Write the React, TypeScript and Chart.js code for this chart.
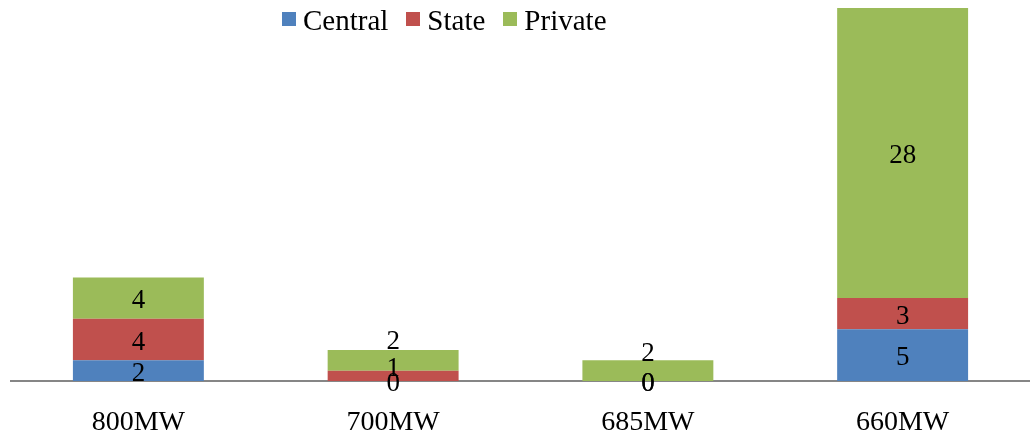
import React, { useEffect, useRef } from "react";
import { Chart, registerables } from "chart.js";

Chart.register(...registerables);

// Units by size class, stacked by sector
const categories = ["800MW", "700MW", "685MW", "660MW"];
const centralUnits = [2, 0, 0, 5];
const stateUnits = [4, 1, 0, 3];
const privateUnits = [4, 2, 2, 28];

// Vertical nudges (px) that lift crowded value labels off their neighbours
const centralLabelNudge = [0, 0, 0, 0];
const stateLabelNudge = [0, -10, 0, 0];
const privateLabelNudge = [0, -21, -20, 0];

const SERIF = '"Liberation Serif", "Times New Roman", serif';
const COLORS = { central: "#4F81BD", state: "#C0504D", private: "#9BBB59" };

const legendItems = [
  { label: "Central", color: COLORS.central },
  { label: "State", color: COLORS.state },
  { label: "Private", color: COLORS.private },
];

const valueLabels = {
  id: "valueLabels",
  afterDatasetsDraw(chart: any) {
    const ctx = chart.ctx;
    const nudges = [centralLabelNudge, stateLabelNudge, privateLabelNudge];
    ctx.save();
    ctx.font = `27px ${SERIF}`;
    ctx.fillStyle = "#000";
    ctx.textAlign = "center";
    ctx.textBaseline = "middle";
    chart.data.datasets.forEach((ds: any, i: number) => {
      const meta = chart.getDatasetMeta(i);
      meta.data.forEach((bar: any, j: number) => {
        const { x, y, base } = bar.getProps(["x", "y", "base"], true);
        const cy = (y + base) / 2 + 3 + nudges[i][j];
        ctx.fillText(String(ds.data[j]), x, cy);
      });
    });
    ctx.restore();
  },
};

export default function App() {
  const canvasRef = useRef<HTMLCanvasElement | null>(null);

  useEffect(() => {
    if (!canvasRef.current) return;
    const chart = new Chart(canvasRef.current, {
      type: "bar",
      data: {
        labels: categories,
        datasets: [
          { label: "Central", data: centralUnits, backgroundColor: COLORS.central },
          { label: "State", data: stateUnits, backgroundColor: COLORS.state },
          { label: "Private", data: privateUnits, backgroundColor: COLORS.private },
        ],
      },
      options: {
        responsive: false,
        animation: false,
        layout: { padding: { top: 8, left: 11, right: 0, bottom: 0 } },
        datasets: {
          bar: { categoryPercentage: 1, barPercentage: 0.514, borderWidth: 0 },
        },
        plugins: {
          legend: { display: false },
          tooltip: { enabled: false },
        },
        scales: {
          x: {
            stacked: true,
            grid: { display: false, drawTicks: false },
            border: { display: true, color: "#868686", width: 2 },
            ticks: {
              color: "#000",
              padding: 25,
              font: { family: SERIF, size: 28 },
            },
            afterFit(scale: any) {
              scale.height = 58;
            },
          },
          y: {
            stacked: true,
            display: false,
            min: 0,
            max: 36,
          },
        },
      },
      plugins: [valueLabels],
    });
    return () => chart.destroy();
  }, []);

  return (
    <div
      style={{
        position: "absolute",
        left: 0,
        top: 0,
        width: 1030,
        height: 439,
        background: "#fff",
      }}
    >
      <canvas ref={canvasRef} width={1030} height={439} style={{ display: "block" }} />
      <div
        style={{
          position: "absolute",
          left: 282,
          top: 6,
          display: "flex",
          fontFamily: SERIF,
          fontSize: 29,
          lineHeight: "28px",
          color: "#000",
          whiteSpace: "nowrap",
        }}
      >
        {legendItems.map((item) => (
          <div key={item.label} style={{ display: "flex", marginRight: 18 }}>
            <span
              style={{
                width: 14,
                height: 14,
                marginTop: 6,
                marginRight: 7,
                background: item.color,
                display: "inline-block",
              }}
            />
            <span>{item.label}</span>
          </div>
        ))}
      </div>
    </div>
  );
}
